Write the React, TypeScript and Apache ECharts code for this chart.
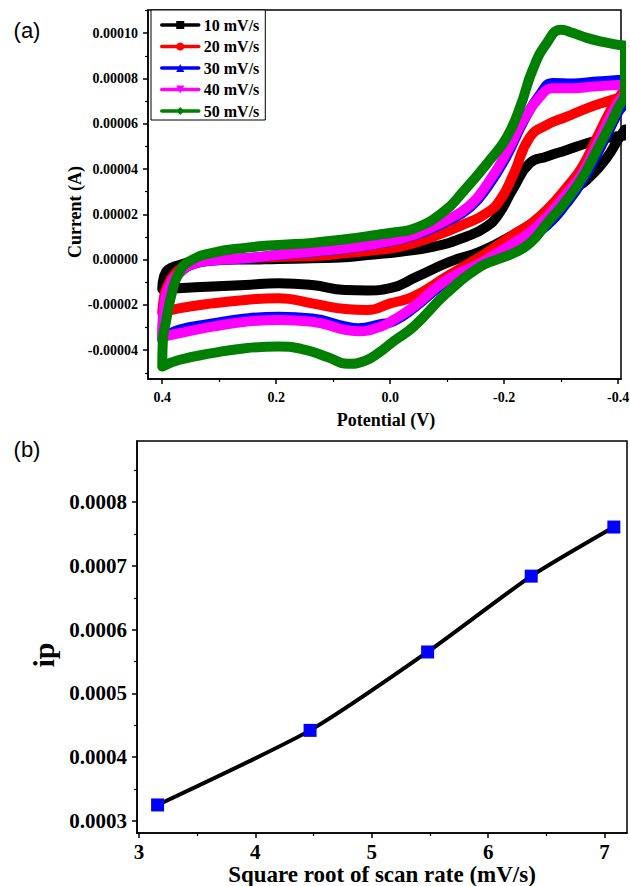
import React, { useEffect, useRef } from "react";
import * as echarts from "echarts";

// ---------- Panel (a): cyclic voltammograms ----------
const SCAN_RATES = ["10 mV/s", "20 mV/s", "30 mV/s", "40 mV/s", "50 mV/s"];
const COLORS = ["#000000", "#ff0000", "#0000ff", "#ff00ff", "#008000"];
const SYMBOLS = ["rect", "circle", "triangle", "triangle", "diamond"];
const SYMBOL_ROTATE = [0, 0, 0, 180, 0];

// Potential (V) and current (units of 1e-5 A); forward branch then return branch
const E_10 = [0.4, 0.397, 0.39, 0.371, 0.342, 0.312, 0.254, 0.196, 0.137, 0.079, 0.04, -0.018, -0.076, -0.134, -0.169, -0.19, -0.216, -0.245, -0.275, -0.31, -0.345, -0.38, -0.4, -0.412,
  -0.412, -0.4, -0.38, -0.345, -0.321, -0.275, -0.216, -0.158, -0.105, -0.047, 0.0, 0.04, 0.079, 0.137, 0.196, 0.254, 0.312, 0.371, 0.4];
const I_10 = [-1.3, -0.75, -0.45, -0.25, -0.05, 0.02, 0.0, 0.03, 0.06, 0.1, 0.2, 0.35, 0.57, 1.02, 1.46, 2.0, 3.15, 4.26, 4.55, 4.84, 5.14, 5.36, 5.45, 5.5,
  5.75, 5.3, 4.5, 3.52, 3.08, 2.05, 1.1, 0.35, -0.09, -0.75, -1.26, -1.36, -1.34, -1.12, -1.04, -1.12, -1.19, -1.26, -1.3];

const E_20 = [0.4, 0.397, 0.394, 0.377, 0.353, 0.312, 0.254, 0.196, 0.137, 0.079, 0.021, -0.018, -0.076, -0.134, -0.169, -0.193, -0.216, -0.245, -0.275, -0.31, -0.345, -0.38, -0.4, -0.412,
  -0.412, -0.4, -0.386, -0.363, -0.337, -0.31, -0.275, -0.245, -0.216, -0.187, -0.158, -0.099, -0.041, 0.0, 0.04, 0.079, 0.137, 0.196, 0.254, 0.312, 0.371, 0.4];
const I_20 = [-2.3, -1.7, -1.34, -0.6, -0.23, -0.01, 0.06, 0.13, 0.16, 0.28, 0.43, 0.57, 1.02, 1.61, 2.05, 2.64, 3.75, 5.4, 5.95, 6.31, 6.68, 6.98, 7.13, 7.2,
  7.55, 7.1, 6.55, 5.4, 4.1, 3.2, 2.2, 1.55, 1.1, 0.6, 0.13, -0.75, -1.63, -1.93, -2.22, -2.18, -1.93, -1.7, -1.78, -1.93, -2.15, -2.35];

const E_30 = [0.4, 0.397, 0.388, 0.371, 0.342, 0.312, 0.254, 0.196, 0.137, 0.079, 0.021, -0.041, -0.099, -0.14, -0.172, -0.204, -0.234, -0.263, -0.286, -0.321, -0.356, -0.4, -0.412,
  -0.412, -0.4, -0.386, -0.363, -0.337, -0.31, -0.275, -0.245, -0.216, -0.187, -0.158, -0.099, -0.041, -0.006, 0.017, 0.056, 0.079, 0.137, 0.196, 0.254, 0.312, 0.371, 0.4];
const I_30 = [-3.55, -2.2, -1.25, -0.62, -0.17, -0.05, 0.05, 0.2, 0.33, 0.48, 0.7, 1.05, 1.68, 2.3, 3.25, 4.55, 6.1, 7.3, 7.8, 7.78, 7.85, 7.93, 7.95,
  7.05, 6.5, 5.8, 4.65, 3.45, 2.5, 1.5, 1.0, 0.62, 0.2, -0.25, -0.98, -2.15, -2.72, -2.85, -3.03, -2.95, -2.6, -2.52, -2.6, -2.82, -3.1, -3.5];

const E_40 = [0.4, 0.397, 0.388, 0.371, 0.342, 0.312, 0.254, 0.196, 0.137, 0.079, 0.021, -0.041, -0.099, -0.14, -0.172, -0.204, -0.234, -0.263, -0.286, -0.321, -0.356, -0.4, -0.412,
  -0.412, -0.4, -0.386, -0.363, -0.337, -0.31, -0.275, -0.245, -0.216, -0.187, -0.158, -0.099, -0.041, -0.006, 0.017, 0.056, 0.079, 0.137, 0.196, 0.254, 0.312, 0.371, 0.4];
const I_40 = [-3.3, -2.08, -1.19, -0.6, -0.16, -0.04, 0.06, 0.21, 0.35, 0.5, 0.72, 1.09, 1.75, 2.4, 3.4, 4.7, 6.17, 7.2, 7.57, 7.57, 7.64, 7.71, 7.73,
  7.5, 6.95, 6.3, 5.1, 3.8, 2.93, 1.9, 1.2, 0.72, 0.28, -0.16, -0.9, -2.08, -2.66, -2.96, -3.16, -3.1, -2.74, -2.66, -2.74, -2.96, -3.25, -3.4];

const E_50 = [0.4, 0.399, 0.394, 0.382, 0.371, 0.354, 0.312, 0.254, 0.196, 0.137, 0.079, 0.021, -0.006, -0.04, -0.093, -0.128, -0.175, -0.205, -0.228, -0.25, -0.275, -0.3, -0.321, -0.345, -0.373, -0.4, -0.412,
  -0.412, -0.4, -0.386, -0.363, -0.337, -0.31, -0.275, -0.245, -0.216, -0.187, -0.158, -0.099, -0.041, -0.006, 0.021, 0.045, 0.075, 0.108, 0.149, 0.196, 0.254, 0.312, 0.371, 0.4];
const I_50 = [-4.7, -3.6, -2.8, -1.35, -0.6, -0.1, 0.3, 0.52, 0.65, 0.74, 0.9, 1.1, 1.2, 1.35, 2.1, 3.0, 4.4, 5.42, 6.74, 8.38, 9.57, 10.15, 10.0, 9.79, 9.61, 9.48, 9.43,
  7.35, 6.7, 5.95, 4.84, 3.61, 2.64, 1.6, 0.72, 0.28, 0.0, -0.31, -1.48, -2.96, -3.6, -4.13, -4.48, -4.6, -4.32, -3.98, -3.84, -3.91, -4.13, -4.43, -4.72];

const POTENTIALS = [E_10, E_20, E_30, E_40, E_50];
const CURRENTS = [I_10, I_20, I_30, I_40, I_50];

const X_TICKS_A = [-0.4, -0.2, 0, 0.2, 0.4];
const Y_TICKS_A = [-4, -2, 0, 2, 4, 6, 8, 10];

// ---------- Panel (b): peak current vs sqrt(scan rate) ----------
const SQRT_SCAN = [3.16, 4.47, 5.48, 6.37, 7.08];
const IP = [0.000325, 0.000442, 0.000565, 0.000684, 0.000761];
const X_TICKS_B = [3, 4, 5, 6, 7];
const Y_TICKS_B = [0.0003, 0.0004, 0.0005, 0.0006, 0.0007, 0.0008];

const SERIF = "'Liberation Serif', 'Times New Roman', serif";

function buildOption() {
  const axisLine = { show: true, onZero: false, lineStyle: { color: "#000", width: 1.5 } };
  const minorTick = { show: true, splitNumber: 2, length: 3, lineStyle: { color: "#000", width: 1.2 } };
  const tickStyle = { color: "#000", width: 1.5 };

  const cvSeries = SCAN_RATES.map((name, k) => ({
    type: "line",
    name,
    xAxisIndex: 0,
    yAxisIndex: 0,
    data: POTENTIALS[k].map((e, i) => [e, CURRENTS[k][i]]),
    smooth: 0.5,
    symbol: SYMBOLS[k],
    symbolRotate: SYMBOL_ROTATE[k],
    showSymbol: false,
    clip: true,
    lineStyle: { color: COLORS[k], width: 10, cap: "round", join: "round" },
    itemStyle: { color: COLORS[k] },
    z: 2 + k,
  }));

  return {
    animation: false,
    backgroundColor: "#ffffff",
    grid: [
      { left: 148, top: 10, width: 473, height: 369, show: true, borderColor: "#000", borderWidth: 1.5, backgroundColor: "transparent", containLabel: false, outerBoundsMode: "none" },
      { left: 137, top: 441, width: 490, height: 392, show: true, borderColor: "#000", borderWidth: 1.5, backgroundColor: "transparent", containLabel: false, outerBoundsMode: "none" },
    ],
    legend: {
      data: SCAN_RATES,
      orient: "vertical",
      left: 151,
      top: 10,
      padding: [7, 6, 1, 9],
      itemGap: 5.5,
      itemWidth: 37,
      itemHeight: 10,
      backgroundColor: "#fff",
      borderColor: "#000",
      borderWidth: 1,
      lineStyle: { width: 3.5 },
      textStyle: { fontFamily: SERIF, fontWeight: "bold", fontSize: 16, color: "#000" },
    },
    xAxis: [
      {
        type: "value",
        gridIndex: 0,
        inverse: true,
        min: -0.405,
        max: 0.425,
        axisLine,
        axisTick: { show: true, length: 5, lineStyle: tickStyle, customValues: X_TICKS_A },
        minorTick,
        splitLine: { show: false },
        axisLabel: {
          customValues: X_TICKS_A,
          formatter: (v: number) => v.toFixed(1),
          fontFamily: SERIF, fontWeight: "bold", fontSize: 14, color: "#000", margin: 11,
        },
      },
      {
        type: "value",
        gridIndex: 1,
        min: 2.983,
        max: 7.193,
        axisLine,
        axisTick: { show: true, length: 5, lineStyle: tickStyle, customValues: X_TICKS_B },
        minorTick,
        splitLine: { show: false },
        axisLabel: {
          customValues: X_TICKS_B,
          formatter: (v: number) => String(v),
          fontFamily: SERIF, fontWeight: "bold", fontSize: 21, color: "#000", margin: 8,
        },
      },
    ],
    yAxis: [
      {
        type: "value",
        gridIndex: 0,
        min: -5.27,
        max: 11.02,
        splitNumber: 8,
        axisLine,
        axisTick: { show: true, length: 5, lineStyle: tickStyle, customValues: Y_TICKS_A },
        minorTick,
        splitLine: { show: false },
        axisLabel: {
          customValues: Y_TICKS_A,
          formatter: (v: number) => (v * 1e-5).toFixed(5),
          fontFamily: SERIF, fontWeight: "bold", fontSize: 14, color: "#000", margin: 10,
        },
      },
      {
        type: "value",
        gridIndex: 1,
        min: 0.000281,
        max: 0.000896,
        axisLine,
        axisTick: { show: true, length: 5, lineStyle: tickStyle, customValues: Y_TICKS_B },
        minorTick,
        splitLine: { show: false },
        axisLabel: {
          customValues: Y_TICKS_B,
          formatter: (v: number) => v.toFixed(4),
          fontFamily: SERIF, fontWeight: "bold", fontSize: 21, color: "#000", margin: 10,
        },
      },
    ],
    series: [
      ...cvSeries,
      {
        type: "line",
        name: "ip",
        xAxisIndex: 1,
        yAxisIndex: 1,
        data: SQRT_SCAN.map((x, i) => [x, IP[i]]),
        smooth: 0.2,
        symbol: "rect",
        symbolSize: 13,
        showSymbol: true,
        itemStyle: { color: "#0000ff" },
        lineStyle: { color: "#000", width: 4 },
        z: 5,
      },
    ],
    graphic: [
      { type: "text", x: 27, y: 30, style: { text: "(a)", font: "22px 'Liberation Sans', Arial, sans-serif", fill: "#000", align: "center", verticalAlign: "middle", textAlign: "center", textVerticalAlign: "middle" } },
      { type: "text", x: 27, y: 449, style: { text: "(b)", font: "22px 'Liberation Sans', Arial, sans-serif", fill: "#000", align: "center", verticalAlign: "middle", textAlign: "center", textVerticalAlign: "middle" } },
      { type: "text", x: 75, y: 212, rotation: Math.PI / 2, style: { text: "Current (A)", font: `bold 18px ${SERIF}`, fill: "#000", align: "center", verticalAlign: "middle", textAlign: "center", textVerticalAlign: "middle" } },
      { type: "text", x: 386, y: 420, style: { text: "Potential (V)", font: `bold 18px ${SERIF}`, fill: "#000", align: "center", verticalAlign: "middle", textAlign: "center", textVerticalAlign: "middle" } },
      { type: "text", x: 43, y: 655, rotation: Math.PI / 2, style: { text: "ip", font: `bold 30px ${SERIF}`, fill: "#000", align: "center", verticalAlign: "middle", textAlign: "center", textVerticalAlign: "middle" } },
      { type: "text", x: 382, y: 874, style: { text: "Square root of scan rate (mV/s)", font: `bold 23px ${SERIF}`, fill: "#000", align: "center", verticalAlign: "middle", textAlign: "center", textVerticalAlign: "middle" } },
    ],
  };
}

export default function App() {
  const ref = useRef<HTMLDivElement>(null);
  useEffect(() => {
    if (!ref.current) return;
    const chart = echarts.init(ref.current, null, { renderer: "svg" });
    chart.setOption(buildOption() as any);
    return () => chart.dispose();
  }, []);
  return (
    <div
      ref={ref}
      style={{ position: "fixed", left: 0, top: 0, width: 630, height: 886, background: "#fff" }}
    />
  );
}
